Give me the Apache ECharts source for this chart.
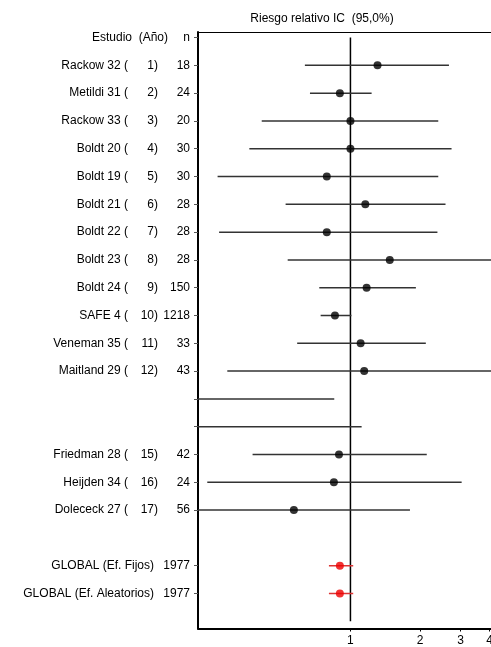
<!DOCTYPE html>
<html>
<head>
<meta charset="utf-8">
<script src="https://cdn.jsdelivr.net/npm/echarts@6/dist/echarts.min.js"></script>
<style>html,body{margin:0;padding:0;background:#fff;overflow:hidden}#c{width:491px;height:647px}</style>
</head>
<body>
<div id="c"></div>
<script>
// ---- data ----
const titleText = 'Riesgo relativo IC  (95,0%)';
const headerName = 'Estudio  (Año)';
const headerN = 'n';
const studyNames = ['Rackow 32','Metildi 31','Rackow 33','Boldt 20','Boldt 19','Boldt 21','Boldt 22','Boldt 23','Boldt 24','SAFE 4','Veneman 35','Maitland 29','','','Friedman 28','Heijden 34','Dolececk 27'];
const studyIds   = [1,2,3,4,5,6,7,8,9,10,11,12,13,14,15,16,17];
const studyN     = [18,24,20,30,30,28,28,28,150,1218,33,43,null,null,42,24,56];
const studyRR    = [1.31,0.90,1.00,1.00,0.79,1.16,0.79,1.48,1.175,0.857,1.107,1.147,null,null,0.892,0.848,0.569];
const studyLow   = [0.635,0.668,0.413,0.365,0.266,0.524,0.270,0.535,0.733,0.743,0.588,0.293,0.10,0.10,0.377,0.240,0.20];
const studyHigh  = [2.67,1.235,2.40,2.74,2.40,2.58,2.38,4.6,1.92,1.01,2.12,4.8,0.851,1.118,2.14,3.03,1.81];
const studyRows  = [1,2,3,4,5,6,7,8,9,10,11,12,13,14,15,16,17];
const globalNames = ['GLOBAL (Ef. Fijos)','GLOBAL (Ef. Aleatorios)'];
const globalN    = [1977,1977];
const globalRR   = [0.90,0.90];
const globalLow  = [0.807,0.807];
const globalHigh = [1.028,1.028];
const globalRows = [19,20];
const xTicks = [1,2,3,4];
const xMin = 0.2188, xMax = 4.06;
const refValue = 1;

// ---- build (log10 transform for a logarithmic x scale) ----
const L = v => Math.log10(v);
const rowLabel = {};
rowLabel[0] = '{h|' + headerName + '}{hn|' + headerN + '}';
studyRows.forEach((r, i) => {
  rowLabel[r] = studyNames[i] ? ('{a|' + studyNames[i] + ' (}{c|' + studyIds[i] + ')}{b|' + studyN[i] + '}') : '';
});
globalRows.forEach((r, i) => {
  rowLabel[r] = '{a|' + globalNames[i] + '}{g|' + globalN[i] + '}';
});
const yTickValues = [0].concat(studyRows, globalRows);

const studyBars = studyRows.map((r, i) => [L(studyLow[i]), L(studyHigh[i]), r]);
const studyPts = studyRows.map((r, i) => studyRR[i] == null ? null : [L(studyRR[i]), r]).filter(d => d);
const globalBars = globalRows.map((r, i) => [L(globalLow[i]), L(globalHigh[i]), r]);
const globalPts = globalRows.map((r, i) => [L(globalRR[i]), r]);
const xTickLogs = xTicks.map(L);

const font = 'Liberation Sans, Arial, sans-serif';
const txt = { fontFamily: font, fontSize: 12, color: '#000' };

function barRenderer(color) {
  return function (params, api) {
    const p1 = api.coord([api.value(0), api.value(2)]);
    const p2 = api.coord([api.value(1), api.value(2)]);
    const cs = params.coordSys;
    return {
      type: 'line',
      shape: { x1: p1[0], y1: p1[1], x2: p2[0], y2: p2[1] },
      style: { stroke: color, lineWidth: 1.5 },
      clipPath: { type: 'rect', shape: { x: cs.x, y: cs.y, width: cs.width, height: cs.height } }
    };
  };
}

const chart = echarts.init(document.getElementById('c'), null, { renderer: 'canvas' });
chart.setOption({
  animation: false,
  backgroundColor: '#fff',
  title: {
    text: titleText, left: 317, top: 8, textAlign: 'center',
    textStyle: { fontFamily: font, fontSize: 12, fontWeight: 'normal', color: '#000' }
  },
  grid: { left: 198, right: 0, top: 32, bottom: 18.5, containLabel: false, outerBoundsMode: 'none' },
  xAxis: [{
    type: 'value', min: L(xMin), max: L(xMax),
    axisLine: { show: true, onZero: false, lineStyle: { color: '#000', width: 2 } },
    axisTick: { show: true, customValues: xTickLogs, length: 3, lineStyle: { color: '#000' } },
    axisLabel: Object.assign({ customValues: xTickLogs, margin: 6, formatter: v => String(Math.round(Math.pow(10, v))) }, txt),
    splitLine: { show: false }
  }, {
    type: 'value', min: L(xMin), max: L(xMax), position: 'top',
    axisLine: { show: true, onZero: false, lineStyle: { color: '#000', width: 1 } },
    axisTick: { show: false }, axisLabel: { show: false }, splitLine: { show: false }
  }],
  yAxis: {
    type: 'value', inverse: true, min: -0.2, max: 21.26,
    axisLine: { show: true, onZero: false, lineStyle: { color: '#000', width: 2 } },
    axisTick: { show: true, customValues: yTickValues, length: 4, lineStyle: { color: '#555' } },
    axisLabel: {
      customValues: yTickValues, margin: 8,
      formatter: v => rowLabel[Math.round(v)] || '',
      rich: {
        h: txt,
        hn: Object.assign({ width: 22, align: 'right' }, txt),
        a: txt,
        c: Object.assign({ width: 30, align: 'right' }, txt),
        b: Object.assign({ width: 32, align: 'right' }, txt),
        g: Object.assign({ width: 36, align: 'right' }, txt)
      }
    },
    splitLine: { show: false }
  },
  series: [
    {
      type: 'line', data: [[L(refValue), 0], [L(refValue), 21]], symbol: 'none',
      lineStyle: { color: '#000', width: 1.5 }, z: 1, silent: true
    },
    {
      type: 'custom', data: studyBars, encode: { x: [0, 1], y: 2 },
      renderItem: barRenderer('#333'), z: 2, silent: true
    },
    {
      type: 'custom', data: globalBars, encode: { x: [0, 1], y: 2 },
      renderItem: barRenderer('#d33'), z: 2, silent: true
    },
    {
      type: 'scatter', data: studyPts, symbol: 'circle', symbolSize: 8,
      itemStyle: { color: '#000' }, z: 3, silent: true
    },
    {
      type: 'scatter', data: globalPts, symbol: 'circle', symbolSize: 8,
      itemStyle: { color: '#e00' }, z: 3, silent: true
    }
  ]
});
</script>
</body>
</html>
